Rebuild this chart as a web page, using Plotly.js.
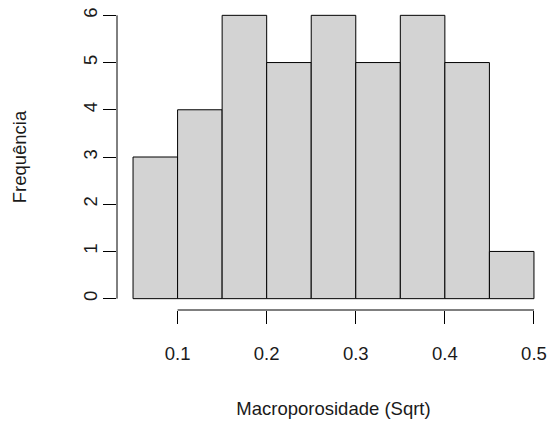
<!DOCTYPE html>
<html>
<head>
<meta charset="utf-8">
<script src="https://cdn.plot.ly/plotly-3.0.1.min.js"></script>
<style>html,body{margin:0;padding:0;background:#fff;}#chart{width:552px;height:428px;}</style>
</head>
<body>
<div id="chart"></div>
<script>
// Histogram bins (lower edges), bin width and counts
const binStarts = [0.05, 0.10, 0.15, 0.20, 0.25, 0.30, 0.35, 0.40, 0.45];
const binWidth = 0.05;
const counts = [3, 4, 6, 5, 6, 5, 6, 5, 1];
const xTicks = [0.1, 0.2, 0.3, 0.4, 0.5];
const xTickLabels = ["0.1", "0.2", "0.3", "0.4", "0.5"];
const yTicks = [0, 1, 2, 3, 4, 5, 6];
const yTickLabels = ["0", "1", "2", "3", "4", "5", "6"];
const xTitle = "Macroporosidade (Sqrt)";
const yTitle = "Frequência";

const centers = binStarts.map(s => s + binWidth / 2);
const font = {family: "Liberation Sans, Arial, sans-serif", size: 18.5, color: "#1a1a1a"};

const trace = {
  type: "bar",
  x: centers,
  y: counts,
  width: binStarts.map(() => binWidth),
  marker: {color: "#d3d3d3", line: {color: "#000", width: 1}},
  hoverinfo: "skip"
};

const layout = {
  width: 552, height: 428,
  margin: {l: 117, r: 2, t: 4, b: 118},
  paper_bgcolor: "#fff", plot_bgcolor: "#fff",
  showlegend: false,
  font: font,
  xaxis: {
    range: [0.032, 0.518],
    tickmode: "array", tickvals: xTicks, ticktext: xTickLabels,
    ticks: "outside", ticklen: 13, tickwidth: 1, tickcolor: "#000",
    ticklabelstandoff: 14,
    showgrid: false, zeroline: false, showline: false,
    tickfont: font,
    title: {text: xTitle, font: font, standoff: 38}
  },
  yaxis: {
    range: [-0.24, 6.24],
    tickmode: "array", tickvals: yTicks, ticktext: yTickLabels,
    ticks: "outside", ticklen: 13, tickwidth: 1, tickcolor: "#000",
    tickangle: -90,
    ticklabelstandoff: -1,
    showgrid: false, zeroline: false, showline: false,
    tickfont: font,
    title: {text: yTitle, font: font, standoff: 48}
  },
  shapes: [
    {type: "line", xref: "x", yref: "paper", x0: xTicks[0], x1: xTicks[xTicks.length - 1], y0: 0, y1: 0, line: {color: "#000", width: 1}},
    {type: "line", xref: "paper", yref: "y", x0: 0, x1: 0, y0: yTicks[0], y1: yTicks[yTicks.length - 1], line: {color: "#000", width: 1}}
  ]
};

Plotly.newPlot("chart", [trace], layout, {staticPlot: true, displayModeBar: false});
</script>
</body>
</html>
